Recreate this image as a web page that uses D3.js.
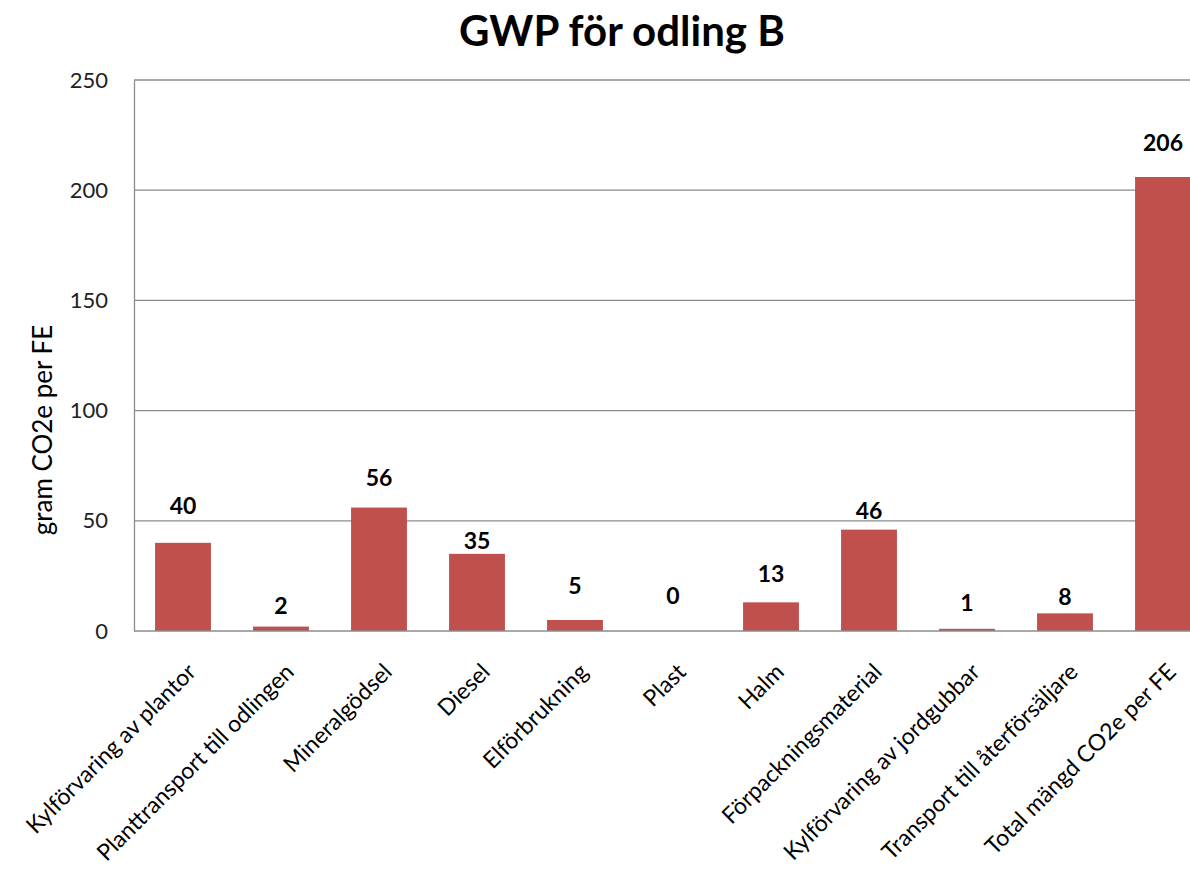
<!DOCTYPE html>
<html><head><meta charset="utf-8">
<script src="https://cdn.jsdelivr.net/npm/d3@7"></script>
<style>body{margin:0;background:#fff}svg{display:block}text{font-family:Lato,"Open Sans",sans-serif}</style>
</head><body>
<svg id="c" width="1190" height="874"></svg>
<script>
const categories = ["Kylförvaring av plantor","Planttransport till odlingen","Mineralgödsel","Diesel","Elförbrukning","Plast","Halm","Förpackningsmaterial","Kylförvaring av jordgubbar","Transport till återförsäljare","Total mängd CO2e per FE"];
const values = [40, 2, 56, 35, 5, 0, 13, 46, 1, 8, 206];
const yTicks = [0, 50, 100, 150, 200, 250];
const labelDy = [38, 22, 31, 14, 35, 36, 29, 20, 27, 17, 35];
const title = "GWP för odling B";
const yTitle = "gram CO2e per FE";

const svg = d3.select("#c");
const m = {left:134, top:80, right:1212, bottom:631};
const x = d3.scaleBand().domain(categories).range([m.left, m.right]).paddingInner(0.43).paddingOuter(0.215);
const y = d3.scaleLinear().domain([0,250]).range([m.bottom, m.top]);

// gridlines
svg.append("g").selectAll("line").data(yTicks.filter(d=>d>0)).join("line")
  .attr("x1", m.left).attr("x2", m.right).attr("y1", d=>y(d)).attr("y2", d=>y(d))
  .attr("stroke", "#8c8c8c").attr("stroke-width", 1.3);

// y axis
const ya = svg.append("g").attr("transform", `translate(${m.left},0)`)
  .call(d3.axisLeft(y).tickValues(yTicks).tickSize(0).tickPadding(26));
ya.select(".domain").attr("stroke", "#8c8c8c").attr("stroke-width", 1.3);
ya.selectAll("text").attr("font-size", 22).attr("fill", "#222").style("font-family","Lato,sans-serif");

// bars
svg.append("g").selectAll("rect").data(values).join("rect")
  .attr("x", (d,i)=>x(categories[i])).attr("width", x.bandwidth())
  .attr("y", d=>y(d)).attr("height", d=>y(0)-y(d)).attr("fill", "#C0504D");

// x axis line
svg.append("line").attr("x1", m.left).attr("x2", m.right).attr("y1", y(0)).attr("y2", y(0))
  .attr("stroke", "#8c8c8c").attr("stroke-width", 1.3);

// data labels
svg.append("g").selectAll("text").data(values).join("text")
  .attr("x", (d,i)=>x(categories[i]) + x.bandwidth()/2)
  .attr("y", (d,i)=>y(d) - labelDy[i])
  .attr("text-anchor", "middle").attr("dominant-baseline", "central")
  .attr("font-size", 23).attr("font-weight", "bold").attr("fill", "#000")
  .text(d=>d);

// category labels
svg.append("g").selectAll("text").data(categories).join("text")
  .attr("transform", d=>`translate(${x(d)+x.bandwidth()/2+8},${y(0)+36}) rotate(-45)`)
  .attr("text-anchor", "end").attr("dominant-baseline", "central")
  .attr("font-size", 23).attr("fill", "#000")
  .text(d=>d);

// title
svg.append("text").attr("x", 622).attr("y", 30).attr("text-anchor", "middle").attr("dominant-baseline","central")
  .attr("font-size", 42).attr("font-weight", "bold").attr("fill", "#000").text(title);

// y title
svg.append("text").attr("transform", "translate(42,430) rotate(-90)").attr("text-anchor","middle")
  .attr("dominant-baseline","central").attr("font-size", 26).attr("fill", "#000").text(yTitle);
</script>
</body></html>
